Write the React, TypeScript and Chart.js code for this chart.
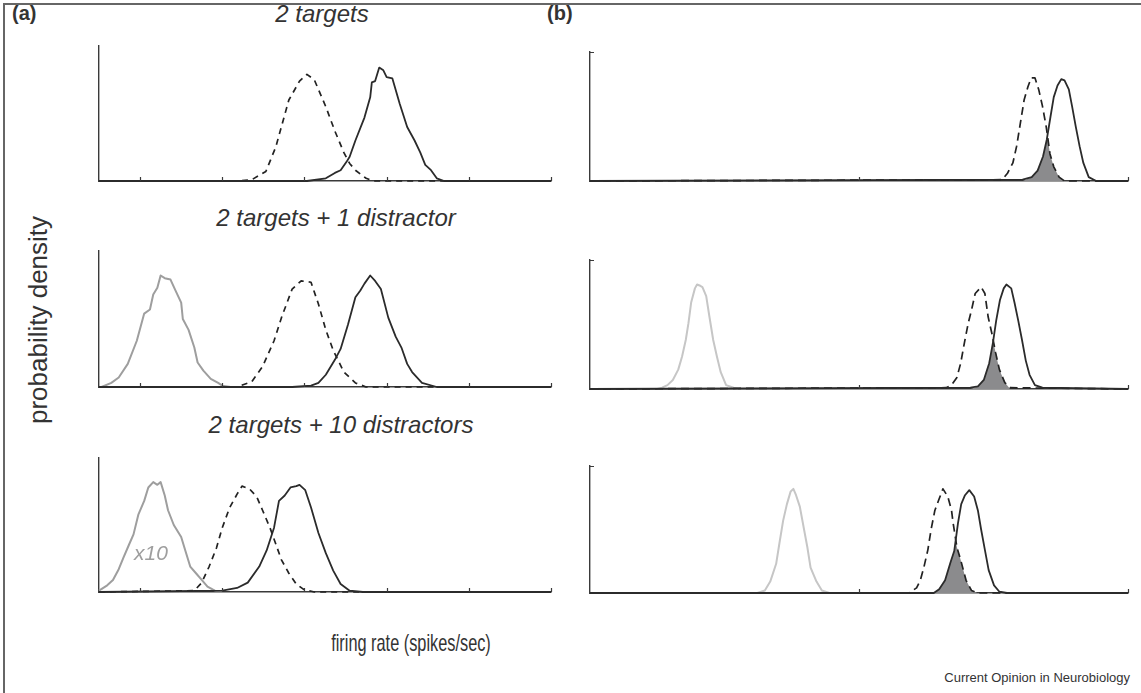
import React, { useEffect, useRef } from 'react';
import { Chart, registerables } from 'chart.js';

Chart.register(...registerables);

// ---------------- data ----------------
const leftXRange = [0, 55];
const rightXRange = [0, 100];
const leftTicks = [5, 15, 25, 35, 45, 55];
const rightTicks = [50, 100];
const yRange = [0, 1];

const panelTitles = ['2 targets', '2 targets + 1 distractor', '2 targets + 10 distractors'];
const panelLetters = ['(a)', '(b)'];
const yAxisLabel = 'probability density';
const xAxisLabel = 'firing rate (spikes/sec)';
const scaleNote = 'x10';
const sourceNote = 'Current Opinion in Neurobiology';

// (a) 2 targets
const a1Dashed = [[0,0],[17,0],[18.6,0.01],[20.3,0.07],[21.5,0.25],[23.1,0.6],[24.4,0.74],[25.3,0.79],[26.2,0.75],[27.6,0.55],[28.7,0.37],[29.8,0.21],[30.5,0.13],[31.2,0.08],[32.5,0.02],[33.4,0],[55,0]];
const a1Solid = [[0,0],[25.3,0],[27.6,0.02],[28.7,0.06],[29.4,0.08],[30.1,0.14],[30.5,0.18],[31.2,0.3],[32.3,0.47],[33,0.62],[33.2,0.73],[33.6,0.74],[34.1,0.84],[34.6,0.82],[35,0.77],[35.7,0.76],[36.6,0.57],[37.5,0.4],[38.4,0.3],[39.1,0.21],[39.7,0.12],[40.4,0.08],[41.1,0.02],[42,0],[55,0]];
// (a) 2 targets + 1 distractor
const a2Gray = [[0,0],[0.3,0],[1.5,0.03],[2.4,0.07],[3.5,0.17],[4.6,0.34],[5.5,0.54],[6.2,0.57],[6.6,0.68],[7.1,0.73],[7.5,0.82],[8,0.8],[8.7,0.79],[9.3,0.71],[10,0.62],[10.2,0.5],[10.9,0.42],[11.6,0.29],[12,0.18],[12.7,0.12],[13.6,0.06],[14.5,0.03],[15,0.01],[16,0]];
const a2Dashed = [[0,0],[16.8,0],[18.6,0.04],[19.9,0.15],[21.3,0.34],[22.2,0.51],[23.5,0.72],[24.6,0.78],[25.8,0.77],[26.7,0.61],[27.6,0.42],[28.5,0.27],[29.8,0.11],[31.2,0.03],[32.5,0],[55,0]];
const a2Solid = [[0,0],[23.5,0],[25.8,0.01],[26.7,0.03],[27.6,0.09],[28.7,0.2],[29.4,0.28],[30.3,0.46],[31.2,0.66],[31.8,0.71],[32.3,0.76],[33,0.82],[33.6,0.78],[34.3,0.72],[35.2,0.51],[36.1,0.37],[36.8,0.29],[37.5,0.17],[38.1,0.11],[39.3,0.03],[41.1,0],[55,0]];
// (a) 2 targets + 10 distractors
const a3Gray = [[0,0.01],[1,0.05],[1.7,0.09],[2.4,0.17],[3,0.26],[3.7,0.36],[4.2,0.43],[4.8,0.58],[5.5,0.68],[6,0.78],[6.6,0.82],[7.1,0.8],[7.5,0.82],[8,0.72],[8.4,0.61],[9.1,0.5],[10,0.41],[10.5,0.31],[11.1,0.19],[11.8,0.14],[12.5,0.09],[13.2,0.04],[14.1,0.01],[15,0]];
const a3Dashed = [[0,0],[11.6,0.01],[12.5,0.07],[13.4,0.19],[14.3,0.33],[15,0.48],[15.9,0.63],[16.8,0.73],[17.4,0.79],[18.3,0.77],[19.2,0.71],[19.9,0.61],[20.8,0.48],[21.5,0.36],[22.2,0.24],[23.1,0.14],[24,0.06],[24.9,0.02],[26.2,0],[55,0]];
const a3Solid = [[0,0],[15,0.01],[16.8,0.03],[18.1,0.07],[19.5,0.19],[20.4,0.31],[21.3,0.48],[21.9,0.68],[22.6,0.72],[23.3,0.78],[24,0.79],[24.4,0.8],[25.1,0.76],[25.8,0.63],[26.7,0.44],[27.6,0.29],[28.5,0.16],[29.4,0.06],[30.5,0.01],[32.1,0],[55,0]];

// (b) 2 targets
const b1Dashed = [[0,0],[76.6,0.01],[77.6,0.06],[78.6,0.14],[79.3,0.27],[80,0.45],[80.7,0.63],[81.4,0.73],[82,0.8],[82.7,0.8],[83.4,0.71],[84.1,0.58],[84.8,0.42],[85.5,0.21],[86.2,0.11],[87.2,0.03],[88.2,0],[100,0]];
const b1Solid = [[0,0],[80.4,0.01],[82.1,0.03],[83.2,0.08],[84.2,0.19],[84.9,0.32],[85.6,0.5],[86.2,0.65],[86.9,0.74],[87.6,0.79],[88.2,0.78],[89,0.71],[89.6,0.58],[90.3,0.42],[91,0.27],[91.7,0.14],[92.7,0.03],[94.1,0],[100,0]];
const b1Overlap = [[80.4,0],[82.1,0.03],[83.2,0.08],[84.2,0.19],[84.9,0.32],[85.0,0.35],[85.5,0.21],[86.2,0.11],[87.2,0.03],[88.2,0]];
// (b) 2 targets + 1 distractor
const b2Gray = [[12.5,0],[13.4,0.01],[14.4,0.03],[15.4,0.07],[16.4,0.15],[17.1,0.25],[17.8,0.38],[18.3,0.51],[18.8,0.67],[19.5,0.78],[19.9,0.81],[20.5,0.8],[20.9,0.79],[21.6,0.72],[22.2,0.56],[22.9,0.38],[23.6,0.25],[24.3,0.13],[25.3,0.03],[26.7,0.01],[27.5,0]];
const b2Dashed = [[0,0],[66.2,0.01],[67.2,0.03],[68.2,0.09],[68.9,0.2],[69.6,0.36],[70.3,0.51],[70.9,0.61],[71.6,0.74],[72.7,0.79],[73.4,0.74],[74,0.56],[74.7,0.43],[75.4,0.28],[76.1,0.15],[77.1,0.05],[78.1,0.01],[100,0]];
const b2Solid = [[0,0],[70.7,0.01],[72.1,0.02],[73.2,0.07],[74.2,0.2],[74.9,0.36],[75.5,0.53],[76.2,0.69],[76.9,0.78],[77.4,0.81],[78.3,0.78],[78.9,0.67],[79.6,0.53],[80.3,0.38],[81,0.22],[81.7,0.11],[82.7,0.03],[84.1,0.01],[100,0]];
const b2Overlap = [[70.7,0],[72.1,0.02],[73.2,0.07],[74.2,0.2],[74.95,0.37],[75.4,0.28],[76.1,0.15],[77.1,0.05],[78.1,0]];
// (b) 2 targets + 10 distractors
const b3Gray = [[31.1,0],[32.5,0.02],[33.5,0.09],[34.6,0.23],[35.2,0.39],[35.9,0.57],[36.6,0.7],[37.3,0.8],[37.8,0.82],[38.3,0.77],[39,0.68],[39.7,0.52],[40.4,0.36],[41,0.2],[42.1,0.09],[43.1,0.02],[44.5,0]];
const b3Dashed = [[0,0],[59.3,0],[60.7,0.04],[61.4,0.1],[62.1,0.21],[62.8,0.34],[63.4,0.5],[64.1,0.65],[64.8,0.73],[65.6,0.82],[66.5,0.76],[67.2,0.65],[67.5,0.55],[68.2,0.36],[68.9,0.26],[69.9,0.1],[70.9,0.02],[72,0],[100,0]];
const b3Solid = [[0,0],[63.9,0],[64.9,0.03],[66,0.1],[67,0.24],[67.7,0.33],[68.4,0.55],[69,0.7],[69.7,0.77],[70.5,0.81],[71.4,0.76],[72.1,0.65],[72.7,0.5],[73.4,0.34],[74.1,0.18],[75.1,0.06],[76.1,0.01],[77.5,0],[100,0]];
const b3Overlap = [[63.9,0],[64.9,0.03],[66,0.1],[67,0.24],[67.7,0.33],[67.98,0.42],[68.2,0.36],[68.9,0.26],[69.9,0.1],[70.9,0.02],[72,0]];

// ---------------- layout / style ----------------
const FONT = "'Liberation Sans', Arial, Helvetica, sans-serif";
const INK = '#333';
const AXIS = '#3a3a3a';
const PAD = 8;

type Area = { left: number; top: number; width: number; height: number };
type PanelCfg = {
  area: Area;
  xRange: number[];
  ticks: number[];
  gray?: number[][];
  grayColor?: string;
  dashed: number[][];
  solid: number[][];
  overlap?: number[][];
  topTick: boolean;
  dash: number[];
};

const L = { left: 99, width: 452 };
const R = { left: 590, width: 538 };

const panels: PanelCfg[] = [
  { area: { ...L, top: 46, height: 135 }, xRange: leftXRange, ticks: leftTicks, dashed: a1Dashed, solid: a1Solid, topTick: false, dash: [6, 5] },
  { area: { ...L, top: 251, height: 136 }, xRange: leftXRange, ticks: leftTicks, gray: a2Gray, grayColor: '#9e9e9e', dashed: a2Dashed, solid: a2Solid, topTick: false, dash: [6, 5] },
  { area: { ...L, top: 458, height: 134 }, xRange: leftXRange, ticks: leftTicks, gray: a3Gray, grayColor: '#9e9e9e', dashed: a3Dashed, solid: a3Solid, topTick: false, dash: [6, 5] },
  { area: { ...R, top: 52, height: 129 }, xRange: rightXRange, ticks: rightTicks, dashed: b1Dashed, solid: b1Solid, overlap: b1Overlap, topTick: true, dash: [8, 5] },
  { area: { ...R, top: 260, height: 129 }, xRange: rightXRange, ticks: rightTicks, gray: b2Gray, grayColor: '#c6c6c6', dashed: b2Dashed, solid: b2Solid, overlap: b2Overlap, topTick: true, dash: [8, 5] },
  { area: { ...R, top: 466, height: 127 }, xRange: rightXRange, ticks: rightTicks, gray: b3Gray, grayColor: '#c6c6c6', dashed: b3Dashed, solid: b3Solid, overlap: b3Overlap, topTick: true, dash: [8, 5] },
];

const inwardTicks = {
  id: 'inwardTicks',
  afterDraw(chart: any, _args: any, opts: any) {
    const { ctx, chartArea } = chart;
    const xs = chart.scales.x;
    const ys = chart.scales.y;
    ctx.save();
    ctx.strokeStyle = AXIS;
    ctx.lineWidth = 1.2;
    ctx.beginPath();
    for (const v of opts.ticks || []) {
      const px = Math.round(xs.getPixelForValue(v)) + 0.5;
      ctx.moveTo(px, chartArea.bottom);
      ctx.lineTo(px, chartArea.bottom - 4);
    }
    if (opts.topTick) {
      const py = Math.round(ys.getPixelForValue(ys.max)) + 0.5;
      ctx.moveTo(chartArea.left, py);
      ctx.lineTo(chartArea.left + 4, py);
    }
    ctx.stroke();
    ctx.restore();
  },
};

function Panel({ cfg }: { cfg: PanelCfg }) {
  const ref = useRef<HTMLCanvasElement>(null);
  useEffect(() => {
    if (!ref.current) return;
    const pts = (a: number[][]) => a.map(([x, y]) => ({ x, y }));
    const datasets: any[] = [];
    if (cfg.overlap) {
      datasets.push({ data: pts(cfg.overlap), borderWidth: 0, borderColor: 'rgba(0,0,0,0)', backgroundColor: '#8b8b8d', fill: 'origin', order: 10, clip: false });
    }
    if (cfg.gray) {
      datasets.push({ data: pts(cfg.gray), borderColor: cfg.grayColor, borderWidth: 2, fill: false, order: 5, clip: false });
    }
    datasets.push({ data: pts(cfg.dashed), borderColor: '#222', borderWidth: 1.7, borderDash: cfg.dash, fill: false, order: 4, clip: false });
    datasets.push({ data: pts(cfg.solid), borderColor: '#2b2b2b', borderWidth: 1.8, fill: false, order: 3, clip: false });

    const chart = new Chart(ref.current, {
      type: 'line',
      data: { datasets },
      options: {
        animation: false,
        responsive: false,
        devicePixelRatio: 1,
        layout: { padding: PAD },
        elements: { point: { radius: 0 }, line: { tension: 0, borderJoinStyle: 'round' } },
        plugins: {
          legend: { display: false },
          tooltip: { enabled: false },
          inwardTicks: { ticks: cfg.ticks, topTick: cfg.topTick },
        } as any,
        scales: {
          x: {
            type: 'linear', min: cfg.xRange[0], max: cfg.xRange[1], z: 1,
            grid: { display: false, drawTicks: false },
            ticks: { display: false },
            border: { display: true, color: AXIS, width: 1.6 },
          },
          y: {
            type: 'linear', min: yRange[0], max: yRange[1], z: 1,
            grid: { display: false, drawTicks: false },
            ticks: { display: false },
            border: { display: true, color: AXIS, width: 1.4 },
          },
        },
      } as any,
      plugins: [inwardTicks as any],
    });
    return () => chart.destroy();
  }, [cfg]);
  const a = cfg.area;
  return (
    <canvas
      ref={ref}
      width={a.width + PAD * 2}
      height={a.height + PAD * 2}
      style={{ position: 'absolute', left: a.left - PAD, top: a.top - PAD, width: a.width + PAD * 2, height: a.height + PAD * 2 }}
    />
  );
}

const abs = (s: React.CSSProperties): React.CSSProperties => ({ position: 'absolute', whiteSpace: 'nowrap', lineHeight: 1, ...s });

export default function App() {
  const titlePos = [
    { x: 322, top: 2 },
    { x: 336, top: 206 },
    { x: 341, top: 413 },
  ];
  return (
    <div style={{ position: 'fixed', left: 0, top: 0, width: 1141, height: 693, background: '#fff', overflow: 'hidden', fontFamily: FONT, color: INK }}>
      <div style={{ position: 'absolute', left: 3, top: 3, width: 1300, height: 900, borderLeft: '2px solid #666', borderTop: '2px solid #666' }} />
      {panels.map((p, i) => (
        <Panel key={i} cfg={p} />
      ))}
      <div style={abs({ left: 12, top: 3, fontSize: 20, fontWeight: 'bold' })}>{panelLetters[0]}</div>
      <div style={abs({ left: 547, top: 3, fontSize: 20, fontWeight: 'bold' })}>{panelLetters[1]}</div>
      {panelTitles.map((t, i) => (
        <div key={t} style={abs({ left: titlePos[i].x, top: titlePos[i].top, fontSize: 24, fontStyle: 'italic', transform: 'translateX(-50%)' })}>{t}</div>
      ))}
      <div style={abs({ left: 151, top: 542, fontSize: 21, fontStyle: 'italic', color: '#9e9e9e', transform: 'translateX(-50%)' })}>{scaleNote}</div>
      <div style={abs({ left: 38, top: 320, fontSize: 26, transform: 'translate(-50%, -50%) rotate(-90deg)' })}>{yAxisLabel}</div>
      <div style={abs({ left: 411, top: 631, fontSize: 24, transform: 'translateX(-50%) scaleX(0.68)' })}>{xAxisLabel}</div>
      <div style={abs({ right: 11, top: 671, fontSize: 13 })}>{sourceNote}</div>
    </div>
  );
}
